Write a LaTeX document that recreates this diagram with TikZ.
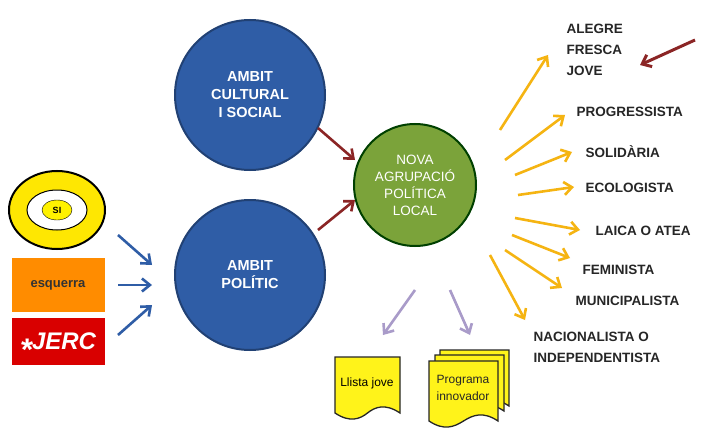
\documentclass[tikz,border=0pt]{standalone}
\usepackage{fontspec}
\setmainfont{Liberation Sans}
\usetikzlibrary{arrows.meta,shapes.geometric}
\definecolor{cblue}{HTML}{2F5DA6}
\definecolor{cgreen}{HTML}{7BA33A}
\definecolor{corange}{HTML}{F5B412}
\definecolor{cpurple}{HTML}{A99BC9}
\definecolor{cred}{HTML}{8B2525}
\begin{document}
\begin{tikzpicture}[x=1pt,y=-1pt,
 circ/.style={circle,draw=#1!70!black,line width=2pt,fill=#1,text=white,font=\bfseries\fontsize{14.5}{18}\selectfont,align=center},
 lab/.style={font=\bfseries\fontsize{13.5}{21}\selectfont,text=black!85,anchor=west,align=left},
 arr/.style={-{Straight Barb[length=8pt,width=13pt]},line width=2.6pt,draw=#1},
 doc/.style={draw=black!85,line width=1.3pt,fill=yellow!90!white}]
\fill[white] (0,0) rectangle (710,444);
\node[circ=cblue,minimum size=150pt] (c1) at (250,95) {AMBIT\\CULTURAL\\I SOCIAL};
\node[circ=cblue,minimum size=150pt] (c2) at (250,275) {AMBIT\\POLÍTIC};
\node[circ=cgreen,draw=green!25!black,minimum size=122pt,font=\fontsize{13.5}{17}\selectfont] (g) at (415,185) {NOVA\\AGRUPACIÓ\\POLÍTICA\\LOCAL};
% logos
\node[ellipse,draw=black,line width=2pt,fill=yellow!90!orange,minimum width=96pt,minimum height=78pt] (si) at (57,210) {};
\node[ellipse,draw=black,line width=1pt,fill=white,minimum width=60pt,minimum height=40pt] (sii) at (57,210) {};
\node[ellipse,fill=yellow,draw=black,minimum width=30pt,minimum height=20pt,font=\bfseries\small] (sit) at (57,210) {SI};
\node[fill=orange!90!yellow,minimum width=93pt,minimum height=54pt,font=\bfseries\fontsize{13}{14}\selectfont,text=black!80,inner sep=0pt] (esq) at (58,285) {\raisebox{-6pt}{esquerra}};
\node[fill=red!85!black,minimum width=93pt,minimum height=47pt,font=\bfseries\itshape\fontsize{24}{26}\selectfont,text=white,inner sep=0pt] (jerc) at (58,341) {\textasteriskcentered JERC};
\coordinate (b1) at (118,235); \coordinate (b2) at (118,285); \coordinate (b3) at (118,335);
\draw[arr=cblue] (b1) -- (152,265);
\draw[arr=cblue] (b2) -- (152,285);
\draw[arr=cblue] (b3) -- (152,305);
\draw[arr=cred] (318,128) -- (355,160);
\draw[arr=cred] (318,230) -- (355,200);
% labels
\node[lab] (l1) at (563,50) {ALEGRE\\FRESCA\\JOVE};
\node[lab] (l2) at (573,112) {PROGRESSISTA};
\node[lab] (l3) at (582,152) {SOLIDÀRIA};
\node[lab] (l4) at (582,188) {ECOLOGISTA};
\node[lab] (l5) at (592,231) {LAICA O ATEA};
\node[lab] (l6) at (579,270) {FEMINISTA};
\node[lab] (l7) at (572,301) {MUNICIPALISTA};
\node[lab] (l8) at (530,347) {NACIONALISTA O\\INDEPENDENTISTA};
\tikzset{oa/.style={arr=corange}}
\draw[oa] (500,130) -- (548,55);
\draw[oa] (505,160) -- (565,115);
\draw[oa] (515,175) -- (572,152);
\draw[oa] (518,195) -- (574,187);
\draw[oa] (515,218) -- (580,230);
\draw[oa] (512,235) -- (570,258);
\draw[oa] (505,250) -- (562,288);
\draw[oa] (490,255) -- (525,320);
\draw[arr=cred,line width=3pt] (695,40) -- (640,65);
\draw[arr=cpurple] (415,290) -- (383,335);
\draw[arr=cpurple] (450,290) -- (470,335);
% documents
\def\docshape#1#2#3#4{(#1,#2) -- (#3,#2) -- (#3,#4) .. controls ({#3-15},{#4-10}) and ({#3-25},{#4-6}) .. ({(#1+#3)/2},{#4}) .. controls ({#1+25},{#4+6}) and ({#1+15},{#4+10}) .. (#1,{#4}) -- cycle}
\draw[doc] \docshape{335}{357}{400}{413};
\node[font=\fontsize{12}{14}\selectfont] (lj) at (367,383) {Llista jove};
\draw[doc] \docshape{440}{350}{509}{406};
\draw[doc] \docshape{435}{355}{504}{411};
\draw[doc] \docshape{429}{361}{498}{421};
\node[font=\fontsize{12}{17}\selectfont,align=center,text=black!85] (pi) at (463,388) {Programa\\innovador};
\end{tikzpicture}
\end{document}
